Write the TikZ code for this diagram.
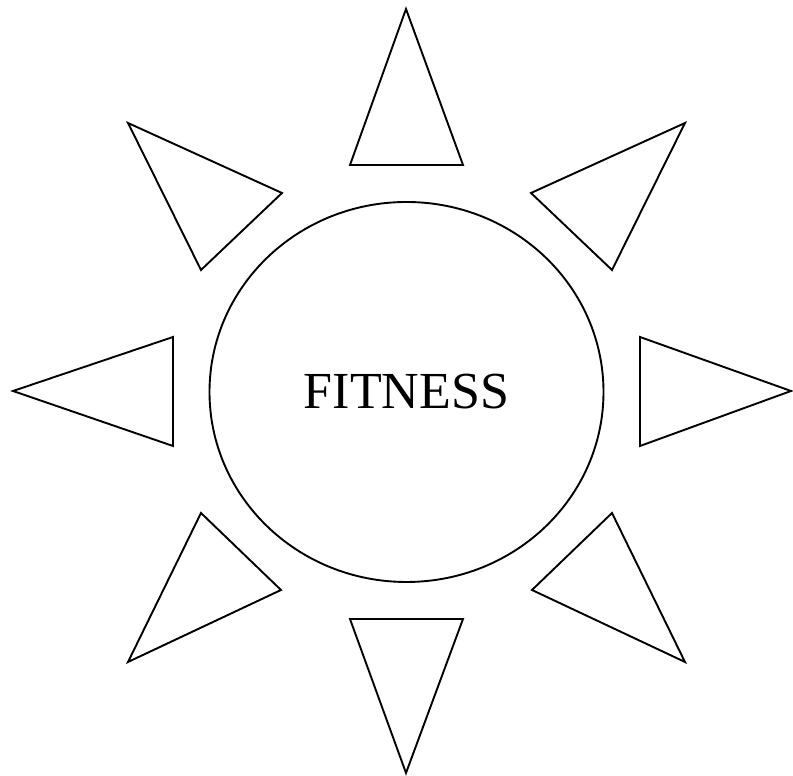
\documentclass[tikz,border=0pt]{standalone}
\usepackage{fontspec}
\setmainfont{Liberation Serif}
\usetikzlibrary{shapes.geometric}
\begin{document}
\begin{tikzpicture}[
  x=1pt,y=1pt,
  hub/.style={draw,ellipse,line width=1.9pt,inner sep=0pt,minimum width=394pt,minimum height=380pt,font=\fontsize{52}{60}\selectfont},
  ray/.style={draw,line width=1.9pt,line join=miter}
]
  \useasboundingbox (0,0) rectangle (793,776);
  \node[hub] (hub) at (406.5,384) {FITNESS};

  % rays around the hub
  \draw[ray] (406,767) -- (350,611) -- (463,611) -- cycle;
  \draw[ray] (406,3) -- (350,157) -- (463,157) -- cycle;
  \draw[ray] (13,385) -- (173,439) -- (173,330) -- cycle;
  \draw[ray] (791,385) -- (640,439) -- (640,330) -- cycle;
  \draw[ray] (128,653) -- (282,583) -- (201,506) -- cycle;
  \draw[ray] (685,653) -- (531,583) -- (612,506) -- cycle;
  \draw[ray] (128,114) -- (281,186) -- (201,263) -- cycle;
  \draw[ray] (685,114) -- (532,186) -- (612,263) -- cycle;
\end{tikzpicture}
\end{document}
